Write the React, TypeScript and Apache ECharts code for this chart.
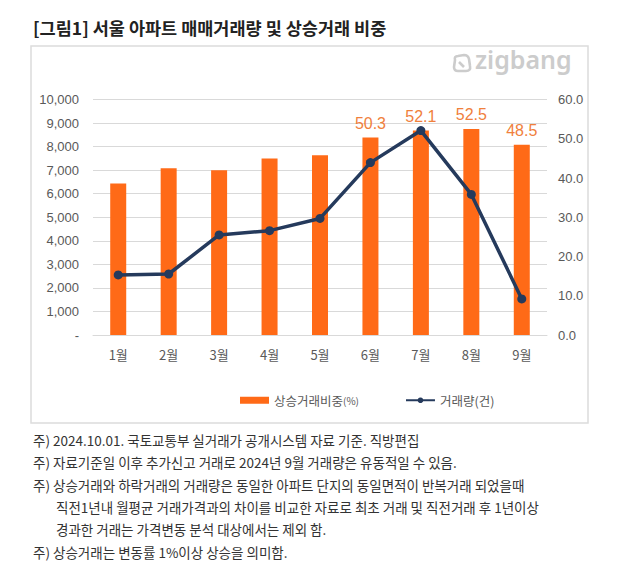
import React, { useEffect, useRef } from "react";
import * as echarts from "echarts";

const months = ["1월", "2월", "3월", "4월", "5월", "6월", "7월", "8월", "9월"];
const risingShare = [38.6, 42.5, 42.0, 45.0, 45.8, 50.3, 52.1, 52.5, 48.5];
const tradeVolume = [2550, 2590, 4250, 4430, 4950, 7320, 8680, 5970, 1530];
const labeledMonths = ["6월", "7월", "8월", "9월"];
const titleText = "[그림1] 서울 아파트 매매거래량 및 상승거래 비중";
const footnotes = [
  "주) 2024.10.01. 국토교통부 실거래가 공개시스템 자료 기준. 직방편집",
  "주) 자료기준일 이후 추가신고 거래로 2024년 9월 거래량은 유동적일 수 있음.",
  "주) 상승거래와 하락거래의 거래량은 동일한 아파트 단지의 동일면적이 반복거래 되었을때",
  "직전1년내 월평균 거래가격과의 차이를 비교한 자료로 최초 거래 및 직전거래 후 1년이상",
  "경과한 거래는 가격변동 분석 대상에서는 제외 함.",
  "주) 상승거래는 변동률 1%이상 상승을 의미함.",
];

const KR = '"Noto Sans CJK KR", "Noto Sans", sans-serif';
const NUM = '"Liberation Sans", Arial, sans-serif';

echarts.graphic.registerShape(
  "zlogo",
  echarts.graphic.extendPath(
    "M4 7 Q3 3 7 3 L13 2 Q17 2 18 6 L19 13 Q20 18 15 18 L7 18 Q3 18 3 14 Z M8 9 L13 14",
    {}
  )
);

export default function App() {
  const ref = useRef<HTMLDivElement>(null);
  useEffect(() => {
    const chart = echarts.init(ref.current!, null, { renderer: "svg" });
    const footGraphics = footnotes.map((t, i) => ({
      type: "text",
      left: t.startsWith("주)") ? 33 : 56,
      top: 433 + i * 22.4,
      style: {
        text: t,
        fill: "#333",
        font: `13.5px ${KR}`,
      },
    }));
    chart.setOption({
      animation: false,
      backgroundColor: "#fff",
      graphic: [
        {
          type: "text",
          left: 33,
          top: 19,
          style: { text: titleText, fill: "#222", font: `bold 17.5px ${KR}` },
        },
        {
          type: "rect",
          shape: { x: 31, y: 46, width: 557, height: 377 },
          style: { fill: "#fff", stroke: "#dcdcdc", lineWidth: 1.5 },
          z: -10,
        },
        {
          type: "zlogo",
          x: 451,
          y: 53,
          scaleX: 1,
          scaleY: 1,
          style: { fill: "none", stroke: "#cccccc", lineWidth: 2.6 },
        },
        {
          type: "text",
          left: 475,
          top: 46,
          style: { text: "zigbang", fill: "#cccccc", font: `600 25px "Noto Sans", sans-serif` },
        },
        ...footGraphics,
      ],
      legend: {
        left: 240,
        top: 394,
        padding: 0,
        itemWidth: 29,
        itemHeight: 7,
        itemGap: 46,
        data: [
          { name: "상승거래비중(%)", icon: "rect" },
          { name: "거래량(건)" },
        ],
        formatter: (name: string) =>
          name === "상승거래비중(%)" ? "{a|상승거래비중}{b|(%)}" : "{a|거래량(건)}",
        textStyle: {
          color: "#595959",
          rich: {
            a: { fontSize: 12.5, fontFamily: KR, color: "#595959" },
            b: { fontSize: 10, fontFamily: KR, color: "#595959" },
          },
        },
      },
      grid: { left: 93, top: 99.5, width: 454, height: 235.5 },
      xAxis: {
        type: "category",
        data: months,
        axisLine: { show: true, lineStyle: { color: "#d9d9d9" } },
        axisTick: { show: false },
        axisLabel: { color: "#595959", fontSize: 13, fontFamily: KR, margin: 13 },
      },
      yAxis: [
        {
          type: "value",
          min: 0,
          max: 10000,
          interval: 1000,
          axisLine: { show: false },
          axisTick: { show: false },
          splitLine: { lineStyle: { color: "#d9d9d9" } },
          axisLabel: {
            color: "#595959",
            fontSize: 13,
            fontFamily: NUM,
            margin: 14,
            formatter: (v: number) => (v === 0 ? "-" : v.toLocaleString("en-US")),
          },
        },
        {
          type: "value",
          min: 0,
          max: 60,
          interval: 10,
          position: "right",
          axisLine: { show: false },
          axisTick: { show: false },
          splitLine: { show: false },
          axisLabel: {
            color: "#595959",
            fontSize: 13,
            fontFamily: NUM,
            margin: 11,
            formatter: (v: number) => v.toFixed(1),
          },
        },
      ],
      series: [
        {
          name: "상승거래비중(%)",
          type: "bar",
          yAxisIndex: 1,
          barWidth: 16,
          itemStyle: { color: "#FF6A17" },
          data: risingShare.map((v, i) => ({
            value: v,
            label: {
              show: labeledMonths.includes(months[i]),
              position: "top",
              distance: 6,
              color: "#F0803C",
              fontSize: 16,
              fontFamily: NUM,
              formatter: (p: any) => Number(p.value).toFixed(1),
            },
          })),
        },
        {
          name: "거래량(건)",
          type: "line",
          yAxisIndex: 0,
          data: tradeVolume,
          symbol: "circle",
          symbolSize: 9,
          lineStyle: { color: "#253A5C", width: 3.5 },
          itemStyle: { color: "#253A5C" },
          z: 5,
        },
      ],
    });
    return () => chart.dispose();
  }, []);
  return (
    <div
      ref={ref}
      style={{ position: "fixed", left: 0, top: 0, width: 624, height: 588, background: "#fff" }}
    />
  );
}
